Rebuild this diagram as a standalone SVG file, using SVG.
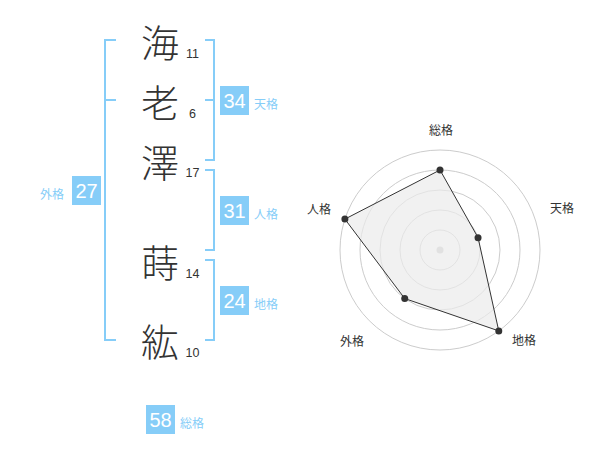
<svg xmlns="http://www.w3.org/2000/svg" width="600" height="470" viewBox="0 0 600 470">
<style>
.kanji{font-family:"Noto Sans CJK JP","Noto Sans CJK SC",sans-serif;font-size:38px;font-weight:300;fill:#333;text-anchor:middle;dominant-baseline:central}
.stroke{font-family:"Liberation Sans",Arial,sans-serif;font-size:12.5px;fill:#333;text-anchor:middle}
.br{fill:none;stroke:#86cdf8;stroke-width:2}
.box{fill:#86cdf8}
.num{font-family:"Liberation Sans",Arial,sans-serif;font-size:20px;fill:#fff;text-anchor:middle}
.lab{font-family:"Liberation Sans","Noto Sans CJK JP",sans-serif;font-size:12px;fill:#86cdf8}
.rl{font-family:"Liberation Sans","Noto Sans CJK JP",sans-serif;font-size:12px;fill:#333;text-anchor:middle;dominant-baseline:central}
.ring{fill:none;stroke:#ccc;stroke-width:1}
.pt{fill:#333}
</style>
<rect width="600" height="470" fill="#fff"/>
<g id="name">
<g id="c1"><text class="kanji" x="160" y="40">海</text><text class="stroke" x="192.5" y="57.5">11</text></g>
<g id="c2"><text class="kanji" x="160" y="100">老</text><text class="stroke" x="192.5" y="117.5">6</text></g>
<g id="c3"><text class="kanji" x="160" y="160">澤</text><text class="stroke" x="192.5" y="177">17</text></g>
<g id="c4"><text class="kanji" x="160" y="260">蒔</text><text class="stroke" x="192.5" y="277.5">14</text></g>
<g id="c5"><text class="kanji" x="160" y="339.5">紘</text><text class="stroke" x="192.5" y="357">10</text></g>
</g>
<g id="brackets">
<path class="br" d="M116,40 H105 V340 H116 M105,100 H116"/>
<path class="br" d="M205,40 H214 V160 H205 M205,100 H214"/>
<path class="br" d="M205,170 H214 V250 H205"/>
<path class="br" d="M205,260 H214 V340 H205"/>
</g>
<g id="gaikaku"><rect class="box" x="72" y="176" width="29" height="29"/><text class="num" x="86.5" y="198">27</text><text class="lab" x="40" y="198.5">外格</text></g>
<g id="tenkaku"><rect class="box" x="220" y="86" width="29" height="29"/><text class="num" x="234.5" y="108">34</text><text class="lab" x="254" y="108.5">天格</text></g>
<g id="jinkaku"><rect class="box" x="220" y="196" width="29" height="29"/><text class="num" x="234.5" y="218">31</text><text class="lab" x="254" y="218.5">人格</text></g>
<g id="chikaku"><rect class="box" x="220" y="286" width="29" height="29"/><text class="num" x="234.5" y="308">24</text><text class="lab" x="254" y="308.5">地格</text></g>
<g id="soukaku"><rect class="box" x="146" y="405" width="29" height="29"/><text class="num" x="160.5" y="427">58</text><text class="lab" x="180" y="427.5">総格</text></g>
<g id="radar">
<circle class="ring" cx="440" cy="250" r="20"/>
<circle class="ring" cx="440" cy="250" r="40"/>
<circle class="ring" cx="440" cy="250" r="60"/>
<circle class="ring" cx="440" cy="250" r="80"/>
<circle class="ring" cx="440" cy="250" r="100"/>
<circle cx="440" cy="250" r="3.5" fill="#c8c8c8"/>
<polygon points="440,170 478.04,237.64 498.78,330.9 404.73,298.54 344.89,219.1" fill="#ebebeb" fill-opacity="0.7" stroke="#333" stroke-width="1"/>
<circle class="pt" cx="440" cy="170" r="3.5"/>
<circle class="pt" cx="478.04" cy="237.64" r="3.5"/>
<circle class="pt" cx="498.78" cy="330.9" r="3.5"/>
<circle class="pt" cx="404.73" cy="298.54" r="3.5"/>
<circle class="pt" cx="344.89" cy="219.1" r="3.5"/>
<text class="rl" x="441" y="131">総格</text>
<text class="rl" x="562" y="209">天格</text>
<text class="rl" x="319" y="210">人格</text>
<text class="rl" x="352" y="342">外格</text>
<text class="rl" x="524" y="341">地格</text>
</g>
</svg>
